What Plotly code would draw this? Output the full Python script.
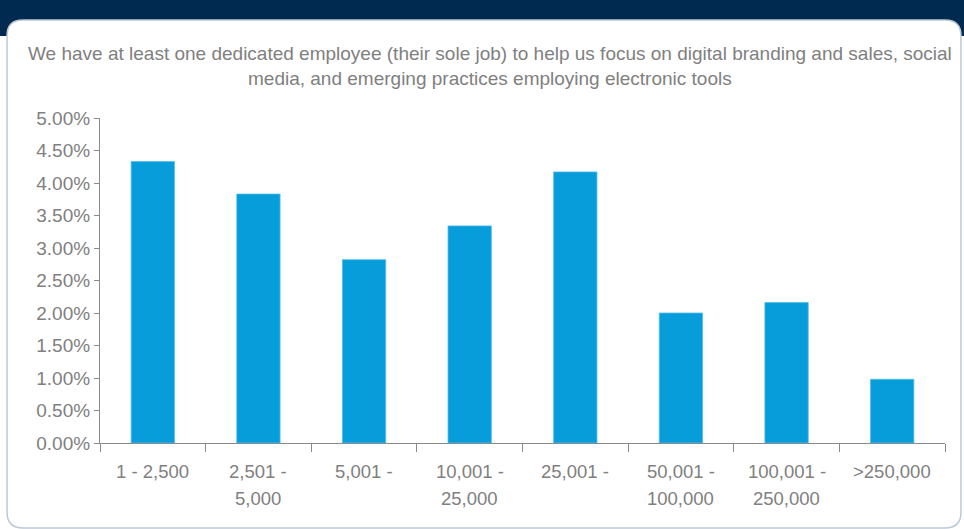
import plotly.graph_objects as go

# Size bands and share of respondents with a dedicated digital employee (%)
categories = ["1 - 2,500", "2,501 - 5,000", "5,001 - 10,000", "10,001 - 25,000",
              "25,001 - 50,000", "50,001 - 100,000", "100,001 - 250,000", ">250,000"]
shares = [4.33, 3.83, 2.82, 3.34, 4.17, 2.00, 2.16, 0.98]
# Category labels as printed under the axis (line 1, line 2)
label_line1 = ["1 - 2,500", "2,501 -", "5,001 -", "10,001 -", "25,001 -",
               "50,001 -", "100,001 -", ">250,000"]
label_line2 = ["", "5,000", "", "25,000", "", "100,000", "250,000", ""]
subtitle_lines = [
    "We have at least one dedicated employee (their sole job) to help us focus on digital branding and sales, social",
    "media, and emerging practices employing electronic tools",
]

W, H = 964, 529
ML, MR, MT, MB = 100, 19, 118, 86
PW, PH = W - ML - MR, H - MT - MB

NAVY = "#002a50"
BAR = "#079ddb"
GREY_TXT = "#808080"
AXIS = "#8a8a8a"
FONT = "Liberation Sans, Arial, sans-serif"


def px(x):
    return (x - ML) / PW


def py(y):
    return 1 - (y - MT) / PH


def rounded_rect(x0, y0, x1, y1, r):
    pts = [
        f"M {px(x0 + r)},{py(y0)}",
        f"L {px(x1 - r)},{py(y0)}",
        f"Q {px(x1)},{py(y0)} {px(x1)},{py(y0 + r)}",
        f"L {px(x1)},{py(y1 - r)}",
        f"Q {px(x1)},{py(y1)} {px(x1 - r)},{py(y1)}",
        f"L {px(x0 + r)},{py(y1)}",
        f"Q {px(x0)},{py(y1)} {px(x0)},{py(y1 - r)}",
        f"L {px(x0)},{py(y0 + r)}",
        f"Q {px(x0)},{py(y0)} {px(x0 + r)},{py(y0)}",
        "Z",
    ]
    return " ".join(pts)


fig = go.Figure(
    go.Bar(
        x=categories,
        y=shares,
        width=0.41,
        marker=dict(color=BAR, line=dict(color="#4fbcec", width=0.8)),
        hoverinfo="x+y",
    )
)

shapes = [
    # header band
    dict(type="rect", xref="paper", yref="paper", x0=px(0), x1=px(W), y0=py(36), y1=py(0),
         fillcolor=NAVY, line=dict(width=0), layer="below"),
    # white content panel
    dict(type="path", xref="paper", yref="paper", path=rounded_rect(7, 20, 961, 528, 16),
         fillcolor="white", line=dict(color="#bdc9d4", width=1.5), layer="below"),
]

annotations = []
for i, line in enumerate(subtitle_lines):
    annotations.append(dict(
        xref="paper", yref="paper", x=px(490), y=py(53 + 25 * i),
        xanchor="center", yanchor="middle", showarrow=False, text=line,
        font=dict(family=FONT, size=19, color=GREY_TXT),
    ))
for cat, l1, l2 in zip(categories, label_line1, label_line2):
    for j, txt in enumerate((l1, l2)):
        if txt:
            annotations.append(dict(
                xref="x", yref="paper", x=cat, y=py(471 + 27 * j),
                xanchor="center", yanchor="middle", showarrow=False, text=txt,
                font=dict(family=FONT, size=18.5, color=GREY_TXT),
            ))

fig.update_layout(
    width=W, height=H,
    margin=dict(l=ML, r=MR, t=MT, b=MB),
    paper_bgcolor="white", plot_bgcolor="rgba(0,0,0,0)",
    showlegend=False,
    bargap=0.59,
    shapes=shapes,
    annotations=annotations,
    font=dict(family=FONT, color=GREY_TXT),
    xaxis=dict(
        type="category", tickson="boundaries", ticks="outside", ticklen=8,
        tickcolor=AXIS, showline=True, linecolor=AXIS, linewidth=1.2,
        showticklabels=False, showgrid=False, zeroline=False,
    ),
    yaxis=dict(
        range=[0, 5], dtick=0.5, tick0=0, tickformat=".2f", ticksuffix="%",
        ticks="outside", ticklen=5, tickcolor=AXIS, showline=True, linecolor=AXIS,
        linewidth=1.2, showgrid=False, zeroline=False,
        tickfont=dict(family=FONT, size=19, color=GREY_TXT),
    ),
)

fig.write_html("out.html")
